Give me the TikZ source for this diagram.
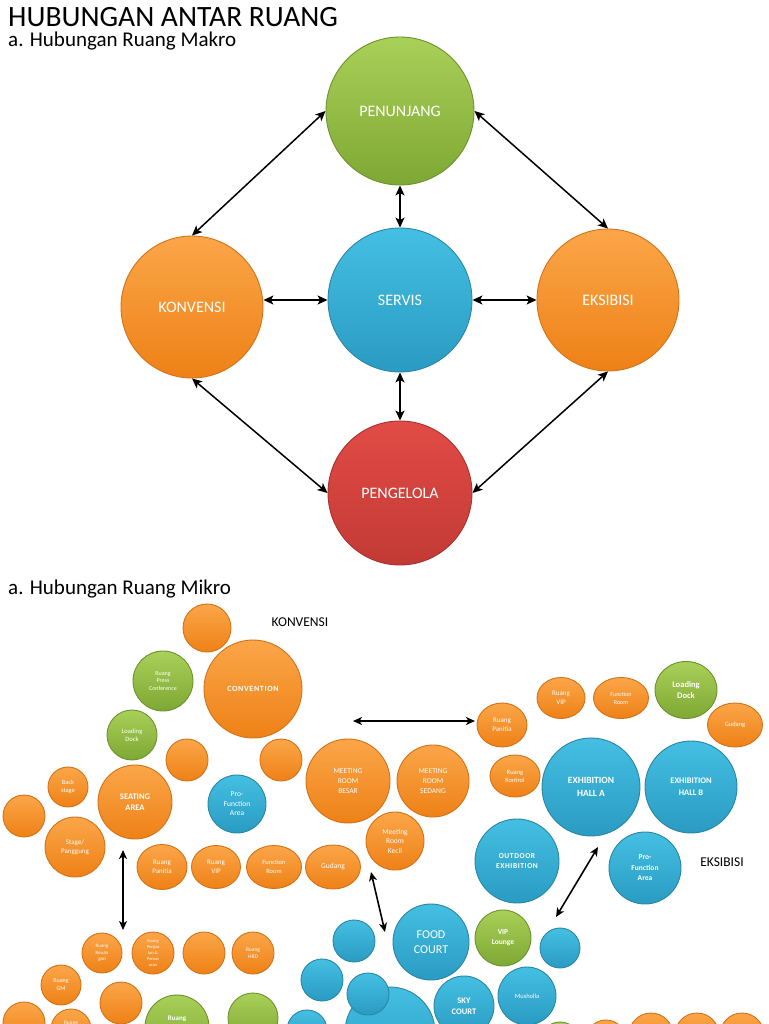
\documentclass[tikz,border=0pt]{standalone}
\usepackage{fontspec}
\setmainfont{Carlito}
\newfontfamily\widefont[LetterSpace=8]{Carlito}
\usetikzlibrary{arrows.meta,shapes.geometric}

\definecolor{grnT}{HTML}{A9D058}
\definecolor{grnD}{HTML}{7EA834}
\definecolor{grnB}{HTML}{6D922E}
\definecolor{orgT}{HTML}{FBA649}
\definecolor{orgD}{HTML}{EE8116}
\definecolor{orgB}{HTML}{D47218}
\definecolor{bluT}{HTML}{44BFE2}
\definecolor{bluD}{HTML}{2A9BC2}
\definecolor{bluB}{HTML}{2986A6}
\definecolor{redT}{HTML}{E24B46}
\definecolor{redD}{HTML}{C23A35}
\definecolor{redB}{HTML}{A5322E}

\newcommand{\fsz}[2]{\fontsize{#1}{#2}\selectfont}

\tikzset{
  ball/.style={circle,inner sep=0pt,align=center,text=white,line width=0.9pt},
  oval/.style={ellipse,inner sep=0pt,align=center,text=white,line width=0.9pt},
  greenball/.style={ball,draw=grnB,top color=grnT,bottom color=grnD},
  orangeball/.style={ball,draw=orgB,top color=orgT,bottom color=orgD},
  blueball/.style={ball,draw=bluB,top color=bluT,bottom color=bluD},
  redball/.style={ball,draw=redB,top color=redT,bottom color=redD},
  greenoval/.style={oval,draw=grnB,top color=grnT,bottom color=grnD},
  orangeoval/.style={oval,draw=orgB,top color=orgT,bottom color=orgD},
  bigtext/.style={font=\fsz{16}{19}},
  link/.style={{Stealth[length=10pt,width=9pt,inset=2.5pt]}-{Stealth[length=10pt,width=9pt,inset=2.5pt]},line width=1.5pt},
  minilink/.style={{Stealth[length=9pt,width=8pt,inset=2.5pt]}-{Stealth[length=9pt,width=8pt,inset=2.5pt]},line width=1.6pt}
}

\begin{document}
\begin{tikzpicture}[x=1pt,y=-1pt]
  \useasboundingbox (0,0) rectangle (768,1024);
  \fill[white] (0,0) rectangle (768,1024);

  % titles
  \node[anchor=base west,inner sep=0pt,font=\fsz{29.5}{32}] (title) at (8,27) {HUBUNGAN ANTAR RUANG};
  \node[anchor=base west,inner sep=0pt,font=\fsz{21}{24}] (makro) at (8,46.5) {a. Hubungan Ruang Makro};
  \node[anchor=base west,inner sep=0pt,font=\fsz{21}{24}] (mikro) at (8,594) {a. Hubungan Ruang Mikro};

  % makro
  \node[greenball,minimum size=148pt,bigtext] (pen) at (400,111) {PENUNJANG};
  \node[orangeball,minimum size=142pt,bigtext] (kon) at (192,307) {KONVENSI};
  \node[blueball,minimum size=144pt,bigtext] (srv) at (400,300) {SERVIS};
  \node[orangeball,minimum size=142pt,bigtext] (eks) at (608,300) {EKSIBISI};
  \node[redball,minimum size=144pt,bigtext] (pgl) at (400,493) {PENGELOLA};

  \draw[link] (pen.west) -- (kon.north);
  \draw[link] (pen.east) -- (eks.north);
  \draw[link] (pen.south) -- (srv.north);
  \draw[link] (kon.east |- srv.west) -- (srv.west);
  \draw[link] (srv.east) -- (eks.west);
  \draw[link] (kon.south) -- (pgl.west);
  \draw[link] (eks.south) -- (pgl.east);
  \draw[link] (srv.south) -- (pgl.north);

  % mikro - konvensi
  \node[font=\fsz{13.5}{16}] (konlbl) at (300,622) {KONVENSI};
  \node[orangeball,minimum size=48pt] (k1) at (207,628) {};
  \node[greenball,minimum size=60pt,font=\fsz{6}{7.2}] (kpress) at (163,681) {Ruang\\Press\\Conference};
  \node[orangeball,minimum size=98pt,font=\widefont\bfseries\fsz{8}{9}] (kconv) at (253,689) {CONVENTION};
  \node[greenball,minimum size=50pt,font=\fsz{6.5}{8}] (kload) at (132,735) {Loading\\Dock};
  \node[orangeball,minimum size=42pt] (k2) at (187,760) {};
  \node[orangeball,minimum size=42pt] (k3) at (281,760) {};
  \node[orangeball,minimum size=40pt,font=\fsz{6.5}{8.5}] (kback) at (68,787) {Back\\stage};
  \node[orangeball,minimum size=42pt] (k4) at (24,816) {};
  \node[orangeball,minimum size=74pt,font=\bfseries\fsz{8.5}{11}] (kseat) at (135,802) {SEATING\\AREA};
  \node[orangeball,minimum size=60pt,font=\fsz{7}{9}] (kstage) at (75,847) {Stage/\\Panggung};
  \node[blueball,minimum size=58pt,font=\fsz{7.5}{9.5}] (kpro) at (237,804) {Pro-\\Function\\Area};
  \node[orangeoval,minimum width=50pt,minimum height=45pt,font=\fsz{7}{9}] (kpan) at (162,867) {Ruang\\Panitia};
  \node[orangeoval,minimum width=49pt,minimum height=43pt,font=\fsz{7}{9}] (kvip) at (216,867) {Ruang\\VIP};
  \node[orangeoval,minimum width=55pt,minimum height=43pt,font=\fsz{6.5}{8.5}] (kfunc) at (274,867) {Function\\Room};
  \node[orangeoval,minimum width=55pt,minimum height=44pt,font=\fsz{7.5}{9}] (kgud) at (333,867) {Gudang};
  \node[orangeball,minimum size=84pt,font=\fsz{7.5}{10}] (kmbesar) at (348,781) {MEETING\\ROOM\\BESAR};
  \node[orangeball,minimum size=72pt,font=\fsz{7.5}{10}] (kmsedang) at (433,781) {MEETING\\ROOM\\SEDANG};
  \node[orangeball,minimum size=58pt,font=\fsz{7.5}{9.5}] (kmkecil) at (395,841) {Meeting\\Room\\Kecil};

  % mikro - eksibisi
  \node[font=\fsz{13.5}{16}] (ekslbl) at (722,862) {EKSIBISI};
  \node[orangeoval,minimum width=50pt,minimum height=44pt,font=\fsz{7}{9}] (epan) at (502,725) {Ruang\\Panitia};
  \node[orangeoval,minimum width=48pt,minimum height=41pt,font=\fsz{7}{9}] (evip) at (561,698) {Ruang\\VIP};
  \node[orangeoval,minimum width=55pt,minimum height=41pt,font=\fsz{6}{8}] (efunc) at (621,698) {Function\\Room};
  \node[greenoval,minimum width=62pt,minimum height=57pt,font=\bfseries\fsz{8.5}{11}] (eload) at (686,690) {Loading\\Dock};
  \node[orangeoval,minimum width=55pt,minimum height=44pt,font=\fsz{6.5}{8}] (egud) at (735,725) {Gudang};
  \node[orangeoval,minimum width=50pt,minimum height=42pt,font=\fsz{6.5}{8}] (ekon) at (515,776) {Ruang\\Kontrol};
  \node[blueball,minimum size=98pt,font=\bfseries\fsz{9.5}{12.5}] (ehalla) at (591,787) {EXHIBITION\\HALL A};
  \node[blueball,minimum size=92pt,font=\bfseries\fsz{8.5}{12}] (ehallb) at (691,787) {EXHIBITION\\HALL B};
  \node[blueball,minimum size=84pt,font=\widefont\bfseries\fsz{7.5}{10}] (eout) at (517,861) {OUTDOOR\\EXHIBITION};
  \node[blueball,minimum size=72pt,font=\bfseries\fsz{7.5}{10.5}] (epro) at (645,868) {Pro-\\Function\\Area};

  % mikro - servis
  \node[blueball,minimum size=76pt,font=\fsz{12}{15}] (sfood) at (431,942) {FOOD\\COURT};
  \node[greenball,minimum size=56pt,font=\bfseries\fsz{7.5}{10}] (svip) at (503,938) {VIP\\Lounge};
  \node[blueball,minimum size=40pt] (s1) at (560,948) {};
  \node[blueball,minimum size=42pt] (s2) at (354,941) {};
  \node[blueball,minimum size=42pt] (s3) at (322,980) {};
  \node[blueball,minimum size=90pt] (sbig) at (390,1032) {};
  \node[blueball,minimum size=42pt] (s4) at (368,994) {};
  \node[blueball,minimum size=60pt,font=\bfseries\fsz{8.5}{11}] (ssky) at (464,1006) {SKY\\COURT};
  \node[blueball,minimum size=58pt,font=\fsz{6.5}{8}] (smus) at (527,996) {Musholla};
  \node[blueball,minimum size=40pt] (s5) at (307,1030) {};

  % mikro - pengelola
  \node[orangeball,minimum size=40pt,font=\fsz{5}{6.5}] (pkeu) at (102,953) {Ruang\\Keuan\\gan};
  \node[orangeball,minimum size=42pt,font=\fsz{4.5}{6}] (pjual) at (153,953) {Ruang\\Penjua\\lan \&\\Pemas\\aran};
  \node[orangeball,minimum size=42pt] (p1) at (204,953) {};
  \node[orangeball,minimum size=42pt,font=\fsz{5.5}{7.5}] (phrd) at (253,953) {Ruang\\HRD};
  \node[orangeball,minimum size=40pt,font=\fsz{6}{8}] (pgm) at (61,985) {Ruang\\GM};
  \node[orangeball,minimum size=42pt] (p2) at (121,1003) {};
  \node[orangeball,minimum size=42pt] (p3) at (24,1023) {};
  \node[orangeball,minimum size=40pt,font=\fsz{5.5}{13}] (p4) at (71,1029) {Ruang\\\mbox{}};
  \node[greenball,minimum size=64pt,font=\bfseries\fsz{7}{17}] (pg1) at (177,1027) {Ruang\\\mbox{}};
  \node[greenball,minimum size=50pt] (pg2) at (253,1018) {};
  \node[greenball,minimum size=40pt] (x1) at (560,1042) {};
  \node[orangeball,minimum size=40pt] (x2) at (606,1040) {};
  \node[orangeball,minimum size=44pt] (x3) at (651,1035) {};
  \node[orangeball,minimum size=44pt] (x4) at (697,1035) {};
  \node[orangeball,minimum size=44pt] (x5) at (742,1035) {};

  % mikro arrows
  \coordinate (m1) at (353,721);
  \coordinate (m2) at (475,721);
  \coordinate (m3) at (123,850);
  \coordinate (m4) at (123,930);
  \coordinate (m5) at (371,872);
  \coordinate (m6) at (385,932);
  \coordinate (m7) at (598,847);
  \coordinate (m8) at (556,917);
  \draw[minilink] (m1) -- (m2);
  \draw[minilink] (m3) -- (m4);
  \draw[minilink] (m5) -- (m6);
  \draw[minilink] (m7) -- (m8);
\end{tikzpicture}
\end{document}
